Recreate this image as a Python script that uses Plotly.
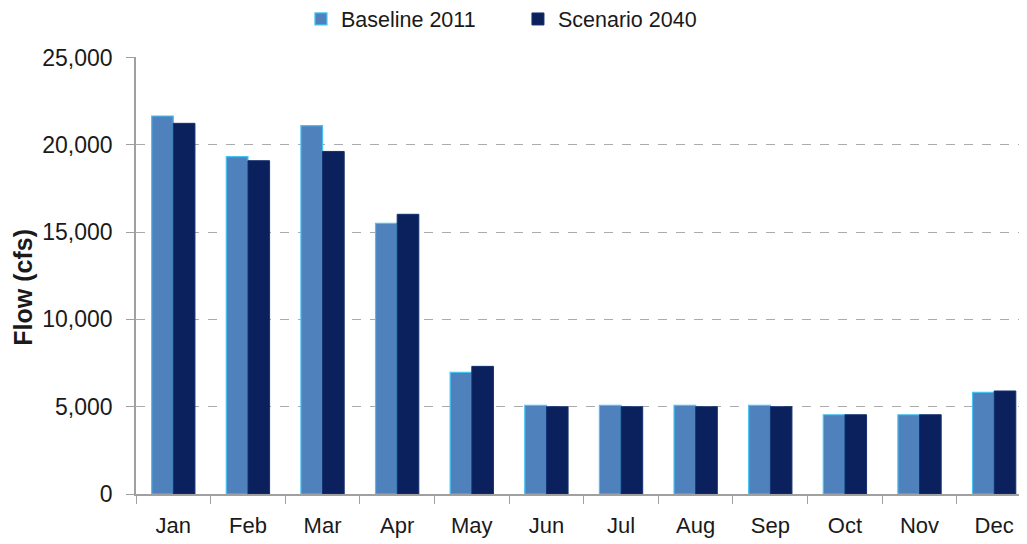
import plotly.graph_objects as go

months = ["Jan", "Feb", "Mar", "Apr", "May", "Jun", "Jul", "Aug", "Sep", "Oct", "Nov", "Dec"]
baseline_2011 = [21650, 19320, 21100, 15500, 6970, 5080, 5080, 5080, 5080, 4540, 4540, 5820]
scenario_2040 = [21230, 19090, 19620, 16020, 7310, 5000, 5000, 5000, 5000, 4540, 4540, 5900]
y_ticks = [0, 5000, 10000, 15000, 20000, 25000]

FONT = "Liberation Sans, Arial, sans-serif"

fig = go.Figure()
fig.add_trace(go.Bar(
    x=months, y=baseline_2011, name="Baseline 2011",
    marker=dict(color="#4F81BD", line=dict(color="#45C3F2", width=1.2)),
))
fig.add_trace(go.Bar(
    x=months, y=scenario_2040, name="Scenario 2040",
    marker=dict(color="#0A215E", line=dict(color="#14306F", width=1)),
))

fig.update_layout(
    width=1019, height=536,
    margin=dict(l=128, r=0, t=49, b=50, autoexpand=False),
    paper_bgcolor="white", plot_bgcolor="white",
    font=dict(family=FONT, size=22, color="#1a1a1a"),
    barmode="group", bargap=0.42, bargroupgap=0,
    legend=dict(
        orientation="h", xref="container", yref="paper",
        x=0.2875, xanchor="left", y=1.087, yanchor="middle",
        font=dict(size=21.5, color="#1a1a1a"),
        entrywidth=172, itemwidth=30,
        bgcolor="rgba(0,0,0,0)",
    ),
    showlegend=True,
    annotations=[dict(
        text="<b>Flow (cfs)</b>", textangle=-90,
        xref="paper", yref="paper", x=-0.127, y=0.474,
        xanchor="center", yanchor="middle", showarrow=False,
        font=dict(family=FONT, size=25, color="#1a1a1a"),
    )],
)

fig.update_xaxes(
    type="category", range=[-0.5, 11.44], automargin=False,
    showline=True, linecolor="#A0A0A0", linewidth=1.5,
    ticks="outside", tickson="boundaries", ticklen=8, tickcolor="#A0A0A0",
    showgrid=False, ticklabelstandoff=11,
    tickfont=dict(size=22, color="#1a1a1a"),
)
fig.update_yaxes(
    range=[0, 25030], tickvals=y_ticks, tickformat=",", automargin=False,
    showline=True, linecolor="#A0A0A0", linewidth=1.5,
    ticks="outside", ticklen=8, tickcolor="#A0A0A0",
    showgrid=True, gridcolor="#ABABAB", gridwidth=1, griddash="dash",
    zeroline=False, ticklabelstandoff=9,
    tickfont=dict(size=23, color="#1a1a1a"),
)

fig.write_html("out.html")
